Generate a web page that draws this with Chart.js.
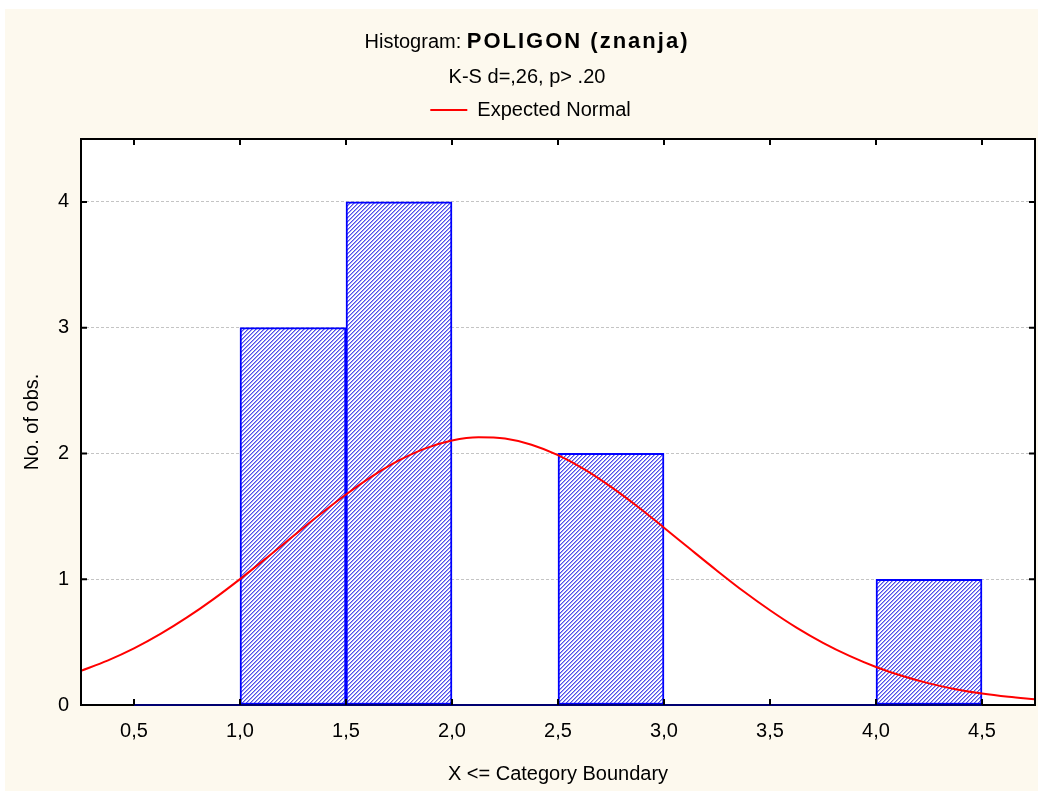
<!DOCTYPE html>
<html><head><meta charset="utf-8">
<script src="https://cdn.jsdelivr.net/npm/chart.js@4.4.1/dist/chart.umd.min.js"></script>
<style>html,body{margin:0;padding:0;background:#fff;}canvas{display:block;}</style>
</head><body>
<canvas id="c" width="1038" height="791"></canvas>
<script>
// ---- data ----
const binLower = [0.5, 1.0, 1.5, 2.0, 2.5, 3.0, 3.5, 4.0];
const binUpper = [1.0, 1.5, 2.0, 2.5, 3.0, 3.5, 4.0, 4.5];
const counts   = [0, 3, 4, 0, 2, 0, 0, 1];
const curveX = [0.25, 0.375, 0.5, 0.625, 0.75, 0.875, 1.0, 1.125, 1.25, 1.375, 1.5, 1.625, 1.75, 1.875, 2.0, 2.125, 2.25, 2.375, 2.5, 2.625, 2.75, 2.875, 3.0, 3.125, 3.25, 3.375, 3.5, 3.625, 3.75, 3.875, 4.0, 4.125, 4.25, 4.375, 4.5, 4.625, 4.75];
const curveY = [0.272, 0.353, 0.450, 0.565, 0.696, 0.842, 1.001, 1.169, 1.341, 1.512, 1.674, 1.820, 1.944, 2.040, 2.103, 2.129, 2.118, 2.069, 1.986, 1.873, 1.734, 1.578, 1.410, 1.238, 1.068, 0.904, 0.753, 0.615, 0.494, 0.390, 0.302, 0.230, 0.172, 0.126, 0.091, 0.065, 0.045];
const xTickValues = [0.5, 1.0, 1.5, 2.0, 2.5, 3.0, 3.5, 4.0, 4.5];
const yTickValues = [0, 1, 2, 3, 4];
const titleMain = 'Histogram: ';
const titleVar = 'POLIGON (znanja)';
const subTitle = 'K-S d=,26, p> .20';
const curveLabel = 'Expected Normal';
const xTitle = 'X <= Category Boundary';
const yTitle = 'No. of obs.';

// hatch pattern
const pc = document.createElement('canvas');
pc.width = 4; pc.height = 4;
const pctx = pc.getContext('2d');
pctx.fillStyle = '#ffffff'; pctx.fillRect(0,0,4,4);
for (let x = 0; x < 4; x++) for (let y = 0; y < 4; y++) {
  const k = (x + y) % 4;
  if (k === 0) { pctx.fillStyle = '#5050e6'; pctx.fillRect(x,y,1,1); }
  else if (k === 1) { pctx.fillStyle = '#a0a0fa'; pctx.fillRect(x,y,1,1); }
}
const ctx = document.getElementById('c').getContext('2d');
const hatch = ctx.createPattern(pc, 'repeat');

const FONT = "'Liberation Sans', Arial, sans-serif";

const decor = {
  id: 'decor',
  beforeDraw(chart) {
    const c = chart.ctx, a = chart.chartArea;
    c.save();
    c.fillStyle = '#ffffff'; c.fillRect(0, 0, chart.width, chart.height);
    c.fillStyle = '#fdf9ee'; c.fillRect(5, 9, chart.width - 5, chart.height - 9);
    c.fillStyle = '#ffffff'; c.fillRect(a.left, a.top, a.right - a.left, a.bottom - a.top);
    c.restore();
  },
  afterDatasetsDraw(chart) {
    const c = chart.ctx, a = chart.chartArea;
    const xs = chart.scales.x, ys = chart.scales.y;
    c.save();
    c.strokeStyle = '#000'; c.lineWidth = 2;
    c.strokeRect(a.left, a.top, a.right - a.left, a.bottom - a.top);
    // bottom edge under the histogram bins in dark blue
    c.strokeStyle = '#000070';
    c.beginPath();
    c.moveTo(xs.getPixelForValue(binLower[0]), a.bottom);
    c.lineTo(xs.getPixelForValue(binUpper[binUpper.length - 1]), a.bottom);
    c.stroke();
    c.strokeStyle = '#000';
    c.beginPath();
    xs.ticks.forEach(t => {
      const px = xs.getPixelForValue(t.value);
      c.moveTo(px, a.top); c.lineTo(px, a.top + 6);
      c.moveTo(px, a.bottom); c.lineTo(px, a.bottom - 6);
    });
    ys.ticks.forEach(t => {
      const py = ys.getPixelForValue(t.value);
      c.moveTo(a.left, py); c.lineTo(a.left + 6, py);
      c.moveTo(a.right, py); c.lineTo(a.right - 6, py);
    });
    c.stroke();
    c.restore();
  },
  afterDraw(chart) {
    const c = chart.ctx;
    c.save();
    c.fillStyle = '#000';
    c.textBaseline = 'alphabetic';
    c.textAlign = 'left';
    c.font = '20px ' + FONT;
    const w1 = c.measureText(titleMain).width;
    c.font = 'bold 22px ' + FONT;
    c.letterSpacing = '2px';
    const w2 = c.measureText(titleVar).width;
    const cx = 527;
    const x0 = cx - (w1 + w2) / 2;
    c.letterSpacing = '0px';
    c.font = '20px ' + FONT;
    c.fillText(titleMain, x0, 48);
    c.font = 'bold 22px ' + FONT;
    c.letterSpacing = '2px';
    c.fillText(titleVar, x0 + w1, 48);
    c.letterSpacing = '0px';
    c.font = '20px ' + FONT;
    c.textAlign = 'center';
    c.fillText(subTitle, cx, 83);
    c.restore();
  }
};

new Chart(ctx, {
  type: 'bar',
  data: {
    datasets: [
      {
        type: 'line',
        label: curveLabel,
        data: curveX.map((x, i) => ({x: x, y: curveY[i]})),
        borderColor: '#ff0000',
        borderWidth: 2,
        pointRadius: 0,
        cubicInterpolationMode: 'monotone',
        fill: false,
        order: 0
      },
      {
        type: 'bar',
        label: 'Histogram',
        data: counts.map((v, i) => ({x: (binLower[i] + binUpper[i]) / 2, y: v})),
        backgroundColor: hatch,
        borderColor: '#0000ff',
        borderWidth: 2,
        borderSkipped: false,
        barPercentage: 1,
        categoryPercentage: 1,
        order: 2
      }
    ]
  },
  options: {
    responsive: false,
    animation: false,
    devicePixelRatio: 1,
    layout: {padding: {left: 26, right: 3, top: 90, bottom: 0}},
    plugins: {
      title: {display: false},
      subtitle: {
        display: true,
        text: ' ',
        weight: 500,
        color: 'rgba(0,0,0,0)',
        font: {family: FONT, size: 1, lineHeight: 1},
        padding: {top: 8, bottom: 0}
      },
      tooltip: {enabled: false},
      legend: {
        display: true,
        position: 'top',
        labels: {
          filter: item => item.text === curveLabel,
          usePointStyle: true,
          pointStyle: 'line',
          pointStyleWidth: 37,
          color: '#000',
          padding: 10,
          font: {family: FONT, size: 20}
        }
      }
    },
    scales: {
      x: {
        type: 'linear',
        min: 0.25,
        max: 4.75,
        offset: false,
        afterBuildTicks: s => { s.ticks = xTickValues.map(v => ({value: v})); },
        afterFit: s => { s.height = 86; },
        grid: {display: false, drawTicks: false},
        border: {display: false},
        ticks: {
          color: '#000',
          padding: 14,
          autoSkip: false,
          maxRotation: 0,
          font: {family: FONT, size: 20},
          callback: v => Number(v).toFixed(1).replace('.', ',')
        },
        title: {
          display: true,
          text: xTitle,
          color: '#000',
          font: {family: FONT, size: 20},
          padding: {top: 0, bottom: 5}
        }
      },
      y: {
        type: 'linear',
        min: 0,
        max: 4.5,
        afterBuildTicks: s => { s.ticks = yTickValues.map(v => ({value: v})); },
        afterFit: s => { s.width = 55; },
        grid: {
          drawTicks: false,
          color: c => (c.tick && c.tick.value === 0) ? 'rgba(0,0,0,0)' : '#c4c4c4',
          lineWidth: 1
        },
        border: {display: false, dash: [3, 2]},
        ticks: {
          color: '#000',
          padding: 12,
          font: {family: FONT, size: 20},
          callback: v => String(v)
        },
        title: {
          display: true,
          text: yTitle,
          color: '#000',
          font: {family: FONT, size: 20},
          padding: {top: -6, bottom: 0}
        }
      }
    }
  },
  plugins: [decor]
});
</script>
</body></html>
